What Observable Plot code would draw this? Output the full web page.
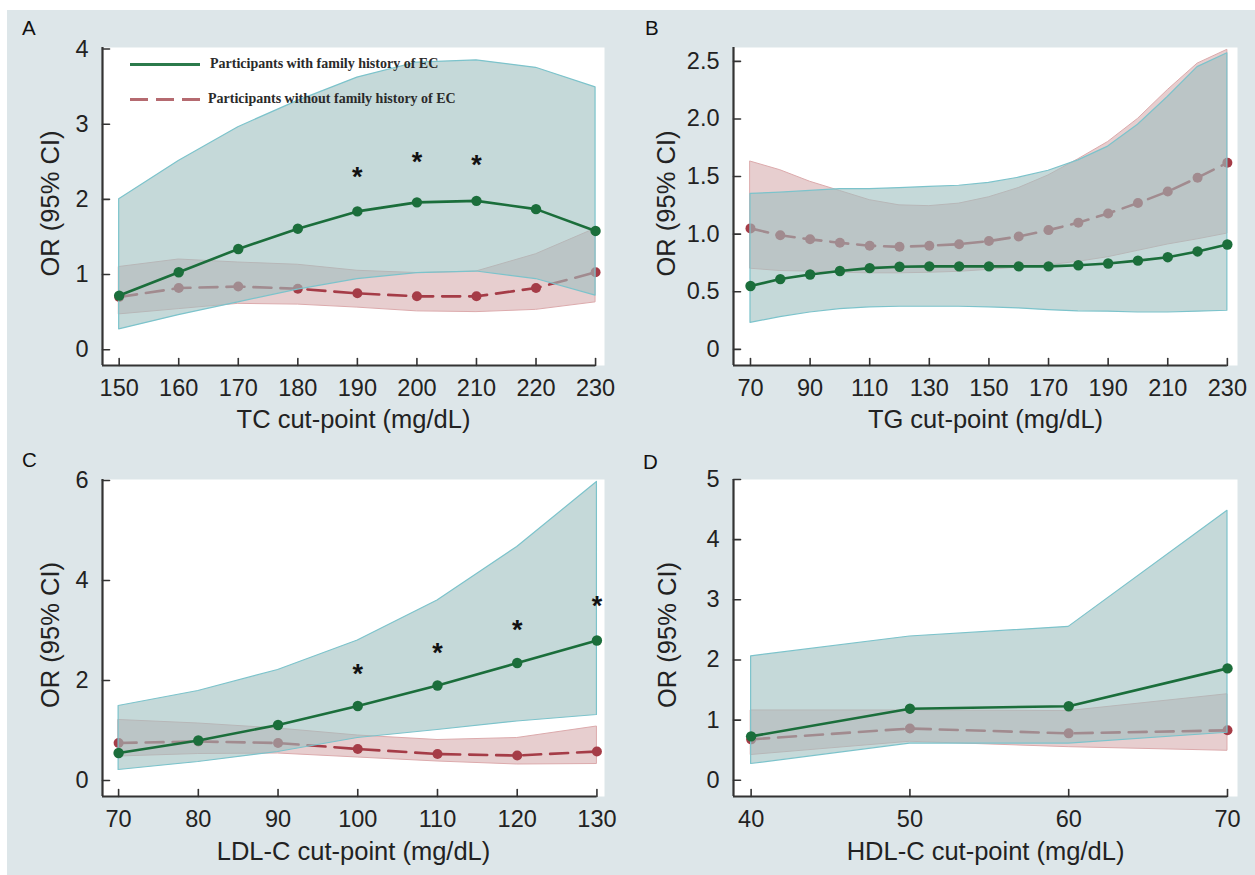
<!DOCTYPE html>
<html><head><meta charset="utf-8">
<script src="https://cdn.jsdelivr.net/npm/d3@7"></script>
<script src="https://cdn.jsdelivr.net/npm/@observablehq/plot@0.6"></script>
<style>
body{margin:0;background:#fff;width:1255px;height:875px;overflow:hidden;position:relative;}
#fig{position:absolute;left:7px;top:10px;width:1248px;height:865px;background:#dde6e9;}
.panel{position:absolute;}
.plab{position:absolute;font:20.5px "Liberation Sans",Arial,sans-serif;color:#111;line-height:20px;}
.leg{position:absolute;font:bold 14px "Liberation Serif","Times New Roman",serif;color:#2a2a2a;line-height:16px;white-space:nowrap;}
</style></head>
<body>
<div id="fig"></div>
<div id="pA" class="panel" style="left:0;top:0"></div>
<div id="pB" class="panel" style="left:625px;top:0"></div>
<div id="pC" class="panel" style="left:0;top:440px"></div>
<div id="pD" class="panel" style="left:625px;top:440px"></div>
<div class="plab" style="left:22px;top:18px">A</div>
<div class="plab" style="left:645px;top:18px">B</div>
<div class="plab" style="left:22px;top:450px">C</div>
<div class="plab" style="left:643px;top:452px">D</div>
<div style="position:absolute;left:130px;top:63px;width:70px;height:3px;background:#2b7a4b"></div>
<div class="leg" style="left:210px;top:56px">Participants with family history of EC</div>
<div style="position:absolute;left:130px;top:98px;width:70px;height:3px;background:repeating-linear-gradient(to right,#b56a70 0 18px,transparent 18px 26px)"></div>
<div class="leg" style="left:208px;top:91px">Participants without family history of EC</div>
<script>
// ---- Panel A: TC ----
const tcX = [150,160,170,180,190,200,210,220,230];
const tcWithOR = [0.72,1.03,1.34,1.61,1.84,1.96,1.98,1.87,1.58];
const tcWithLo = [0.27,0.46,0.63,0.80,0.94,1.02,1.04,0.94,0.72];
const tcWithHi = [2.00,2.51,2.96,3.31,3.62,3.82,3.85,3.75,3.49];
const tcWithoutOR = [0.70,0.82,0.84,0.81,0.75,0.71,0.71,0.82,1.03];
const tcWithoutLo = [0.47,0.54,0.61,0.60,0.56,0.51,0.50,0.53,0.63];
const tcWithoutHi = [1.10,1.20,1.16,1.13,1.05,1.02,1.04,1.27,1.61];
const tcStarX = [190,200,210];
const tcStarY = [2.38,2.58,2.54];
const tcXTicks = [150,160,170,180,190,200,210,220,230];
const tcYTicks = [0,1,2,3,4];

// ---- Panel B: TG ----
const tgX = [70,80,90,100,110,120,130,140,150,160,170,180,190,200,210,220,230];
const tgWithOR = [0.55,0.61,0.65,0.68,0.705,0.717,0.72,0.72,0.72,0.72,0.72,0.73,0.745,0.77,0.80,0.85,0.91];
const tgWithLo = [0.23,0.28,0.32,0.35,0.365,0.37,0.37,0.37,0.365,0.355,0.34,0.33,0.327,0.32,0.32,0.327,0.335];
const tgWithHi = [1.35,1.36,1.375,1.39,1.39,1.40,1.41,1.42,1.445,1.49,1.55,1.64,1.76,1.95,2.19,2.45,2.57];
const tgWithoutOR = [1.05,0.99,0.955,0.925,0.90,0.89,0.90,0.913,0.94,0.98,1.035,1.10,1.18,1.27,1.37,1.49,1.62];
const tgWithoutLo = [0.70,0.68,0.675,0.665,0.66,0.66,0.665,0.673,0.69,0.71,0.73,0.76,0.80,0.855,0.91,0.955,1.005];
const tgWithoutHi = [1.63,1.555,1.455,1.375,1.295,1.25,1.243,1.265,1.32,1.40,1.51,1.65,1.80,2.00,2.25,2.48,2.60];
const tgXTicks = [70,90,110,130,150,170,190,210,230];
const tgYTicks = [0,0.5,1.0,1.5,2.0,2.5];

// ---- Panel C: LDL-C ----
const ldlX = [70,80,90,100,110,120,130];
const ldlWithOR = [0.55,0.80,1.11,1.49,1.90,2.35,2.80];
const ldlWithLo = [0.21,0.37,0.57,0.85,1.01,1.18,1.31];
const ldlWithHi = [1.49,1.79,2.21,2.80,3.60,4.67,5.97];
const ldlWithoutOR = [0.75,0.78,0.75,0.63,0.53,0.50,0.58];
const ldlWithoutLo = [0.48,0.53,0.54,0.46,0.38,0.32,0.33];
const ldlWithoutHi = [1.21,1.14,1.04,0.90,0.81,0.85,1.08];
const ldlStarX = [100,110,120,130];
const ldlStarY = [2.27,2.69,3.15,3.62];
const ldlXTicks = [70,80,90,100,110,120,130];
const ldlYTicks = [0,2,4,6];

// ---- Panel D: HDL-C ----
const hdlX = [40,50,60,70];
const hdlWithOR = [0.73,1.19,1.23,1.86];
const hdlWithLo = [0.27,0.61,0.61,0.79];
const hdlWithHi = [2.06,2.39,2.55,4.48];
const hdlWithoutOR = [0.68,0.86,0.78,0.83];
const hdlWithoutLo = [0.42,0.64,0.55,0.49];
const hdlWithoutHi = [1.16,1.16,1.15,1.43];
const hdlXTicks = [40,50,60,70];
const hdlYTicks = [0,1,2,3,4,5];

const yTitle = "OR (95% CI)";
const GREEN = "#1b6e3b", RED = "#a53c47";
const FS = 23.5, TFS = 25.5;
const tickShape = {draw(ctx, l) { ctx.moveTo(0, 0); ctx.lineTo(0, -l); }};

function rows(x, or, lo, hi) { return x.map((v, i) => ({x: v, or: or[i], lo: lo[i], hi: hi[i]})); }

function panel(cfg) {
  const green = rows(cfg.x, cfg.wOR, cfg.wLo, cfg.wHi);
  const red = rows(cfg.x, cfg.woOR, cfg.woLo, cfg.woHi);
  const stars = (cfg.sx || []).map((v, i) => ({x: v, y: cfg.sy[i]}));
  const xt = cfg.xticks, yt = cfg.yticks;
  return Plot.plot({
    width: cfg.width, height: cfg.height,
    marginLeft: cfg.ml, marginRight: cfg.mr, marginTop: cfg.mt, marginBottom: cfg.mb,
    style: {background: "transparent", fontFamily: "'Liberation Sans', Arial, sans-serif", fontSize: FS + "px", color: "#222", overflow: "visible"},
    x: {domain: cfg.xdom},
    y: {domain: cfg.ydom},
    marks: [
      Plot.frame({fill: "white", stroke: null}),
      Plot.areaY(red, {x: "x", y1: "lo", y2: "hi", fill: "#c07f82", fillOpacity: 0.38, stroke: "#dcaaac", strokeWidth: 1}),
      Plot.lineY(red, {x: "x", y: "or", stroke: RED, strokeWidth: 2.6, strokeDasharray: "18,9"}),
      Plot.dot(red, {x: "x", y: "or", r: 5, fill: RED}),
      Plot.areaY(green, {x: "x", y1: "lo", y2: "hi", fill: "#9ec0c0", fillOpacity: 0.6, stroke: "#7cc3cb", strokeWidth: 1.2}),
      Plot.lineY(green, {x: "x", y: "or", stroke: GREEN, strokeWidth: 2.6}),
      Plot.dot(green, {x: "x", y: "or", r: 5.2, fill: GREEN}),
      Plot.text(stars, {x: "x", y: "y", text: () => "*", fontSize: 27, fontWeight: "bold", fill: "#111", dy: 7}),
      Plot.ruleX([cfg.xdom[0]], {y1: cfg.ydom[0], y2: cfg.ydom[1], stroke: "#333", strokeWidth: 2.2}),
      Plot.ruleY([cfg.ydom[0]], {x1: cfg.xdom[0], x2: xt[xt.length - 1], stroke: "#333", strokeWidth: 2.2}),
      Plot.vector(xt, {x: d => d, y: () => cfg.ydom[0], length: 7, rotate: 0, anchor: "start", shape: tickShape, stroke: "#333", strokeWidth: 1.6}),
      Plot.vector(yt, {y: d => d, x: () => cfg.xdom[0], length: 7, rotate: 90, anchor: "start", shape: tickShape, stroke: "#333", strokeWidth: 1.6}),
      Plot.axisX({ticks: xt, tickSize: 0, tickPadding: 14, fontSize: FS, label: null}),
      Plot.axisY({ticks: yt, tickFormat: cfg.yfmt, tickSize: 0, tickPadding: 14, fontSize: FS, label: null}),
      Plot.text([cfg.xlabel], {frameAnchor: "bottom", text: d => d, dy: cfg.xdy, lineAnchor: "middle", textAnchor: "middle", fontSize: TFS, fill: "#222"}),
      Plot.text([yTitle], {frameAnchor: "left", text: d => d, dx: cfg.ydx, dy: -3, rotate: -90, lineAnchor: "middle", textAnchor: "middle", fontSize: TFS, fill: "#222"})
    ]
  });
}

document.getElementById("pA").append(panel({
  width: 625, height: 440, ml: 102, mr: 21, mt: 47, mb: 75,
  xdom: [147.2, 231.5], ydom: [-0.21, 4.02], xticks: tcXTicks, yticks: tcYTicks, yfmt: d => String(d),
  xlabel: "TC cut-point (mg/dL)", ydx: -52, xdy: 54,
  x: tcX, wOR: tcWithOR, wLo: tcWithLo, wHi: tcWithHi, woOR: tcWithoutOR, woLo: tcWithoutLo, woHi: tcWithoutHi,
  sx: tcStarX, sy: tcStarY
}));
document.getElementById("pB").append(panel({
  width: 630, height: 440, ml: 108, mr: 18, mt: 47, mb: 75,
  xdom: [64.3, 233.4], ydom: [-0.14, 2.62], xticks: tgXTicks, yticks: tgYTicks, yfmt: d => d === 0 ? "0" : d.toFixed(1),
  xlabel: "TG cut-point (mg/dL)", ydx: -67, xdy: 54,
  x: tgX, wOR: tgWithOR, wLo: tgWithLo, wHi: tgWithHi, woOR: tgWithoutOR, woLo: tgWithoutLo, woHi: tgWithoutHi
}));
document.getElementById("pC").append(panel({
  width: 625, height: 435, ml: 102, mr: 21, mt: 39, mb: 79,
  xdom: [67.98, 130.95], ydom: [-0.32, 6.02], xticks: ldlXTicks, yticks: ldlYTicks, yfmt: d => String(d),
  xlabel: "LDL-C cut-point (mg/dL)", ydx: -52, xdy: 55,
  x: ldlX, wOR: ldlWithOR, wLo: ldlWithLo, wHi: ldlWithHi, woOR: ldlWithoutOR, woLo: ldlWithoutLo, woHi: ldlWithoutHi,
  sx: ldlStarX, sy: ldlStarY
}));
document.getElementById("pD").append(panel({
  width: 630, height: 435, ml: 108, mr: 18, mt: 39, mb: 79,
  xdom: [38.89, 70.63], ydom: [-0.27, 5.0], xticks: hdlXTicks, yticks: hdlYTicks, yfmt: d => String(d),
  xlabel: "HDL-C cut-point (mg/dL)", ydx: -66, xdy: 55,
  x: hdlX, wOR: hdlWithOR, wLo: hdlWithLo, wHi: hdlWithHi, woOR: hdlWithoutOR, woLo: hdlWithoutLo, woHi: hdlWithoutHi
}));
</script>
</body></html>
